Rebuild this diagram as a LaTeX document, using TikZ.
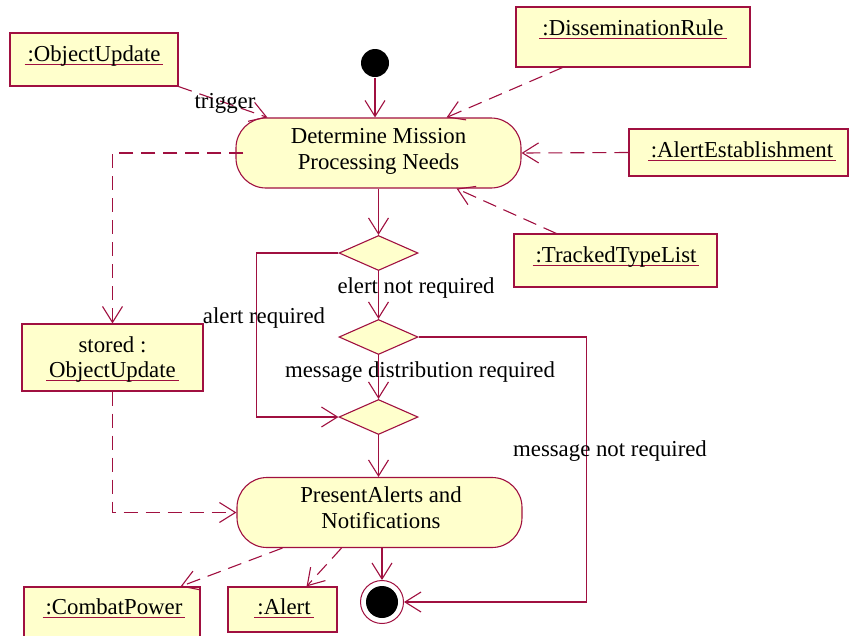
\documentclass[tikz,border=0pt]{standalone}
\usepackage{fontspec}
\setmainfont{Liberation Serif}
\usetikzlibrary{arrows.meta,shapes.geometric,calc}
\definecolor{mc}{RGB}{160,16,64}
\definecolor{fc}{RGB}{255,255,204}
\newsavebox\ulbox
\newcommand\ulx[1]{\sbox\ulbox{#1}\leavevmode\rlap{\kern-3pt\textcolor{mc}{\rule[-3.5pt]{\dimexpr\wd\ulbox+6pt\relax}{1pt}}}\usebox\ulbox}
\begin{document}
\begin{tikzpicture}[x=1pt,y=-1pt, line width=1.1pt,
  font=\fontsize{22.8}{26}\selectfont,
  obj/.style={draw=mc, fill=fc, rectangle, inner sep=0pt},
  act/.style={draw=mc, fill=fc, rectangle, rounded corners=30pt, minimum width=285pt, minimum height=70pt, inner sep=0pt},
  dec/.style={draw=mc, fill=fc, diamond, minimum width=79pt, minimum height=35pt, inner sep=0pt},
  flow/.style={draw=mc, -{Straight Barb[length=16pt,width=20pt]}},
  dep/.style={flow, dash pattern=on 14pt off 8pt},
  lbl/.style={inner sep=0pt, text=black, anchor=base},
  ctr/.style={inner sep=0pt, text=black, align=center}]
\useasboundingbox (0,0) rectangle (850,635);

% object boxes
\node[obj, minimum width=168pt, minimum height=53pt] (ou) at (94,59.5) {};
\node[lbl] (ouT) at (94,61) {\ulx{:ObjectUpdate}};
\node[obj, minimum width=234pt, minimum height=60pt] (dr) at (633,37) {};
\node[lbl] (drT) at (633,35) {\ulx{:DisseminationRule}};
\node[obj, minimum width=219pt, minimum height=47pt] (ae) at (738.5,152.5) {};
\node[lbl] (aeT) at (742,157) {\ulx{:AlertEstablishment}};
\node[obj, minimum width=203pt, minimum height=53pt] (tt) at (615.5,260.5) {};
\node[lbl] (ttT) at (616,262) {\ulx{:TrackedTypeList}};
\node[obj, minimum width=181pt, minimum height=67pt] (st) at (112.5,357.5) {};
\node[lbl] (stT1) at (112.5,352) {stored :};
\node[lbl] (stT2) at (112.5,377) {\ulx{ObjectUpdate}};
\node[obj, minimum width=176pt, minimum height=56pt] (cp) at (112,615) {};
\node[lbl] (cpT) at (114,614) {\ulx{:CombatPower}};
\node[obj, minimum width=109pt, minimum height=45pt] (al) at (282.5,609.5) {};
\node[lbl] (alT) at (284,614) {\ulx{:Alert}};

% activities
\node[act] (det) at (378.5,153) {};
\node[ctr] (detT) at (378.5,151) {Determine Mission\\Processing Needs};
\node[act] (pr) at (379.5,512.5) {};
\node[ctr] (prT) at (381,508) {PresentAlerts and\\Notifications};

% start / end
\node[circle, fill=black, minimum size=28pt, inner sep=0pt] (init) at (375,63) {};
\node[circle, draw=mc, fill=white, minimum size=43pt, inner sep=0pt, line width=1pt] (fin) at (382,602) {};
\node[circle, fill=black, minimum size=32pt, inner sep=0pt] (finI) at (fin) {};

% decisions
\node[dec] (d1) at (378.5,253) {};
\node[dec] (d2) at (378.5,337) {};
\node[dec] (d3) at (378.5,417) {};

% control flows
\draw[flow] (init.south) -- (init.south |- det.north);
\draw[flow] (d1.north |- det.south) -- (d1.north);
\draw[flow] (d1.south) -- (d2.north);
\draw[flow] (d2.south) -- (d3.north);
\draw[flow] (d1.west) -- ++(-82,0) |- (d3.west);
\draw[flow] (d2.east) -- ++(168,0) |- (fin.east);
\draw[flow] (d3.south) -- (d3.south |- pr.north);
\draw[flow] (pr.south -| fin.north) -- (fin.north);

% object flows
\draw[dep] (ou.south east) -- ([xshift=32pt]det.north west);
\draw[dep] ($(dr.south west)!0.2!(dr.south east)$) -- ([xshift=-75pt]det.north east);
\draw[dep] (ae.west) -- (det.east);
\draw[dep] ($(tt.north west)!0.21!(tt.north east)$) -- ([xshift=-65pt]det.south east);
\draw[dep] ([xshift=8pt]det.west) -| (st.north);
\draw[dep] (st.south) |- (pr.west);
\draw[dep] ([xshift=46pt]pr.south west) -- ([xshift=-20pt]cp.north east);
\draw[dep] ([xshift=-38pt]pr.south) -- ([xshift=-31pt]al.north east);

% labels
\node[ctr] (lt) at (225,103) {trigger};
\node[ctr] (l1) at (416,288) {elert not required};
\node[ctr] (l2) at (420,372) {message distribution required};
\node[ctr] (l3) at (264,318) {alert required};
\node[ctr] (l4) at (610,451) {message not required};
\end{tikzpicture}
\end{document}
